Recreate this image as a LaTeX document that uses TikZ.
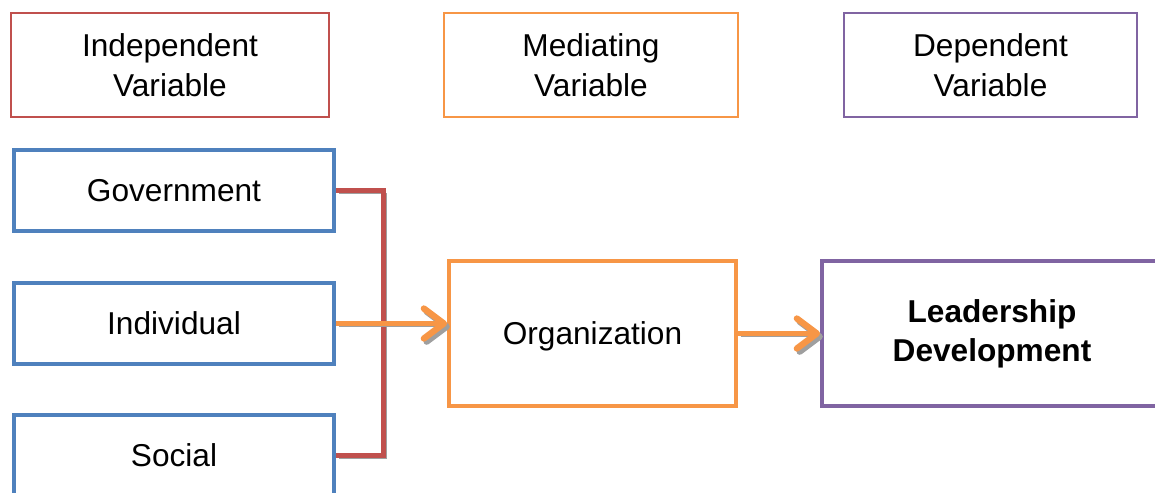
\documentclass[tikz,border=0pt]{standalone}
\usepackage{fontspec}
\setmainfont{Liberation Sans}
\usetikzlibrary{arrows.meta}
\definecolor{boxred}{HTML}{C0504D}
\definecolor{boxorange}{HTML}{F79646}
\definecolor{boxpurple}{HTML}{8064A2}
\definecolor{boxblue}{HTML}{4F81BD}
\tikzset{
  varbox/.style={draw, line width=1.1pt, minimum height=2.08cm, align=center, font=\fontsize{18}{23}\selectfont},
  factorbox/.style={draw=boxblue, line width=2.3pt, minimum width=6.42cm, minimum height=1.62cm, font=\fontsize{18}{23}\selectfont},
  bigbox/.style={line width=2.3pt, minimum height=2.9cm, align=center, font=\fontsize{18}{23}\selectfont},
  shadowed/.style={preaction={draw=gray!75, transform canvas={shift={(1.6pt,-1.8pt)}}}},
  link/.style={boxred, line width=3pt, shadowed},
  flow/.style={boxorange, line width=3pt, shadowed, -{Straight Barb[length=4mm, width=6mm, line width=0pt 1.2, round]}},
}
\begin{document}
\begin{tikzpicture}[x=0.02cm, y=-0.02cm]
  \useasboundingbox (0,0) rectangle (1155,493);
  \clip (0,0) rectangle (1155,493);
  % header boxes
  \node[varbox, draw=boxred, minimum width=6.36cm] (indep) at (170,65) {Independent\\Variable};
  \node[varbox, draw=boxorange, minimum width=5.88cm] (med) at (591,65) {Mediating\\Variable};
  \node[varbox, draw=boxpurple, minimum width=5.86cm] (dep) at (990.5,65) {Dependent\\Variable};
  % independent factors
  \foreach \name/\txt/\y in {gov/Government/190.5, ind/Individual/323.5, soc/Social/455.5} {
    \node[factorbox] (\name) at (174,\y) {\txt};
  }
  % mediator and outcome
  \node[bigbox, draw=boxorange, minimum width=5.74cm, text depth=0pt] (org) at (592.5,333.5) {Organization};
  \node[bigbox, draw=boxpurple, minimum width=6.8cm, font=\fontsize{18}{22}\selectfont\bfseries] (lead) at (992,333.5) {Leadership\\Development};
  % connectors
  \draw[link] (gov.east) -- ++(47,0) |- (soc.east);
  \draw[flow] (ind.east) -- (org.west |- ind.east);
  \draw[flow] (org.east) -- (lead.west);
\end{tikzpicture}
\end{document}
